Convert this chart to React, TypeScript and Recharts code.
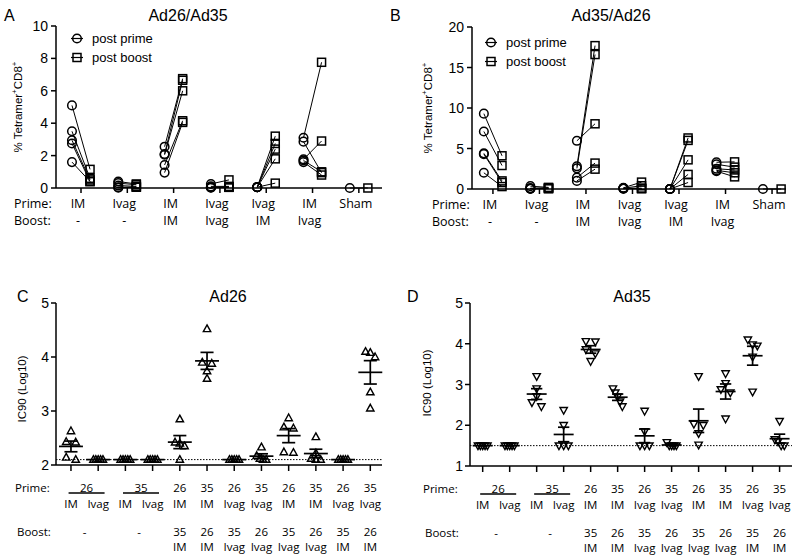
import React from 'react';
import { ScatterChart, Scatter, XAxis, YAxis, ReferenceLine, Legend } from 'recharts';

const INK = '#000';
const NUM_FONT = '"Liberation Sans", Arial, sans-serif';
const LBL_FONT = '"Open Sans", sans-serif';

// ---------- Panels A / B : % Tetramer+ CD8+ ----------
const tetPrimeRoute = ['IM', 'Ivag', 'IM', 'Ivag', 'Ivag', 'IM', 'Sham'];
const tetBoostRoute = ['-', '-', 'IM', 'Ivag', 'IM', 'Ivag', ''];

const ad26Ad35PostPrime = [
  [5.1, 3.5, 2.95, 2.75, 1.6],
  [0.4, 0.3, 0.15, 0.05, 0.02],
  [2.55, 2.1, 2.05, 1.42, 0.95],
  [0.25, 0.1, 0.05, 0.03, 0.02],
  [0.05, 0.05, 0.05, 0.05, 0.05],
  [3.1, 2.86, 1.77, 1.6, 1.7],
  [0],
];
const ad26Ad35PostBoost = [
  [1.15, 0.6, 0.5, 0.4, 0.4],
  [0.25, 0.2, 0.1, 0.05, 0.05],
  [6.75, 6.65, 6.0, 4.15, 4.05],
  [0.5, 0.1, 0.06, 0.05, 0.04],
  [3.2, 2.75, 2.4, 1.8, 0.3],
  [7.76, 0.95, 2.9, 0.8, 1.0],
  [0],
];
const ad35Ad26PostPrime = [
  [9.3, 7.1, 4.4, 4.3, 2.0],
  [0.35, 0.1, 0.05, 0.05, 0.05],
  [2.8, 2.55, 5.95, 1.4, 1.0],
  [0.15, 0.1, 0.1, 0.05, 0.05],
  [0, 0, 0, 0, 0],
  [3.3, 3.05, 2.5, 2.3, 2.2],
  [0],
];
const ad35Ad26PostBoost = [
  [4.1, 2.9, 1.0, 0.8, 0.3],
  [0.2, 0.15, 0.1, 0.05, 0.05],
  [17.7, 16.6, 8.05, 3.2, 2.45],
  [0.85, 0.4, 0.1, 0.05, 0.05],
  [6.3, 6.0, 3.6, 1.8, 0.8],
  [3.35, 2.7, 2.35, 2.0, 1.5],
  [0],
];
const ad26Ad35Ticks = [0, 2, 4, 6, 8, 10];
const ad35Ad26Ticks = [0, 5, 10, 15, 20];
const tetGroupTicks = [0, 1, 2, 3, 4, 5, 6];

// ---------- Panels C / D : IC90 (Log10) ----------
const icPrimeVector = ['26', '26', '35', '35', '26', '35', '26', '35', '26', '35', '26', '35'];
const icPrimeRoute = ['IM', 'Ivag', 'IM', 'Ivag', 'IM', 'IM', 'Ivag', 'Ivag', 'IM', 'IM', 'Ivag', 'Ivag'];
const icBoostVector = ['-', '-', '-', '-', '35', '26', '35', '26', '35', '26', '35', '26'];
const icBoostRoute = ['', '', '', '', 'IM', 'IM', 'Ivag', 'Ivag', 'Ivag', 'Ivag', 'IM', 'IM'];
const icSharedPairs = [[0, 1], [2, 3]];

const ad26Ic90 = [
  [2.63, 2.43, 2.42, 2.14, 2.1],
  [2.1, 2.1, 2.1, 2.1, 2.1],
  [2.1, 2.1, 2.1, 2.1, 2.1],
  [2.1, 2.1, 2.1, 2.1, 2.1],
  [2.85, 2.42, 2.4, 2.35, 2.1],
  [4.52, 3.9, 3.88, 3.74, 3.6],
  [2.1, 2.1, 2.1, 2.1, 2.1],
  [2.33, 2.17, 2.12, 2.1, 2.1],
  [2.87, 2.7, 2.68, 2.24, 2.23],
  [2.52, 2.22, 2.12, 2.1, 2.1],
  [2.1, 2.1, 2.1, 2.1, 2.1],
  [4.1, 4.08, 4.0, 3.35, 3.05],
];
const ad35Ic90 = [
  [1.5, 1.5, 1.5, 1.5, 1.5],
  [1.5, 1.5, 1.5, 1.5, 1.5],
  [3.2, 2.9, 2.71, 2.56, 2.46],
  [2.37, 2.0, 1.5, 1.5, 1.5],
  [4.06, 4.05, 3.86, 3.76, 3.57],
  [2.9, 2.8, 2.7, 2.58, 2.46],
  [2.35, 1.85, 1.5, 1.5, 1.5],
  [1.58, 1.5, 1.5, 1.5, 1.5],
  [3.2, 2.03, 2.0, 1.8, 1.52],
  [3.27, 3.03, 2.88, 2.8, 2.16],
  [4.1, 3.98, 3.95, 3.68, 2.82],
  [2.1, 1.65, 1.6, 1.5, 1.5],
];
const ad26Ticks = [2, 3, 4, 5];
const ad35Ticks = [1, 2, 3, 4, 5];
const ad26Lod = 2.1;
const ad35Lod = 1.5;
const icGroupTicks = [0, 0.5, 1, 2, 2.5, 3, 4, 5, 6, 7, 8, 9, 10, 11];

// ---------- helpers ----------
const OFF = 0.195;
type Pt = { x: number; y: number; kind: string };

function pairs(prime: number[][], boost: number[][]): Pt[][] {
  const out: Pt[][] = [];
  prime.forEach((grp, g) =>
    grp.forEach((v, i) => {
      out.push([
        { x: g - OFF, y: v, kind: 'prime' },
        { x: g + OFF, y: boost[g][i], kind: 'boost' },
      ]);
    })
  );
  return out;
}

function spread(values: number[], thr: number, span: number): number[] {
  const idx = values.map((_, i) => i).sort((a, b) => values[b] - values[a]);
  const offs = new Array(values.length).fill(0);
  let cluster = [idx[0]];
  const flush = () => {
    const k = cluster.length;
    cluster.forEach((id, j) => {
      offs[id] = k === 1 ? 0 : -span / 2 + (span * j) / (k - 1);
    });
  };
  for (let n = 1; n < idx.length; n++) {
    const prev = values[cluster[cluster.length - 1]];
    if (prev - values[idx[n]] < thr) cluster.push(idx[n]);
    else {
      flush();
      cluster = [idx[n]];
    }
  }
  flush();
  return offs;
}

function stats(vals: number[]) {
  const n = vals.length;
  const mean = vals.reduce((a, b) => a + b, 0) / n;
  const sd = Math.sqrt(vals.reduce((a, b) => a + (b - mean) * (b - mean), 0) / (n - 1));
  return { mean, sem: sd / Math.sqrt(n) };
}

const PairMarker = (p: any) => {
  const { cx, cy, payload } = p;
  if (cx == null || cy == null) return <g />;
  if (payload.kind === 'prime')
    return <circle cx={cx} cy={cy} r={4.3} fill="none" stroke={INK} strokeWidth={1.5} />;
  return <rect x={cx - 4} y={cy - 4} width={8} height={8} fill="none" stroke={INK} strokeWidth={1.5} />;
};

const TriUp = (p: any) => {
  const { cx, cy } = p;
  if (cx == null || cy == null) return <g />;
  return (
    <path
      d={`M${cx},${cy - 4} L${cx + 3.7},${cy + 2.7} L${cx - 3.7},${cy + 2.7} Z`}
      fill="none"
      stroke={INK}
      strokeWidth={1.4}
    />
  );
};
const TriDown = (p: any) => {
  const { cx, cy } = p;
  if (cx == null || cy == null) return <g />;
  return (
    <path
      d={`M${cx},${cy + 4} L${cx + 3.7},${cy - 2.7} L${cx - 3.7},${cy - 2.7} Z`}
      fill="none"
      stroke={INK}
      strokeWidth={1.4}
    />
  );
};

const lbl = (s: string, x: number, y: number, size: number, anchor: string = 'middle') => (
  <text
    x={x}
    y={y}
    textAnchor={anchor as any}
    dominantBaseline="central"
    fontFamily={LBL_FONT}
    fontSize={size}
    fill={INK}
  >
    {s}
  </text>
);

const YTick = (props: any) => {
  const { x, y, payload } = props;
  return (
    <text
      x={x}
      y={y}
      textAnchor="end"
      dominantBaseline="central"
      fontFamily={NUM_FONT}
      fontSize={14}
      fill={INK}
    >
      {payload.value}
    </text>
  );
};

const makeTetTick = (headerX: number) => (props: any) => {
  const { x, y, payload } = props;
  const g = payload.value as number;
  return (
    <g>
      <line x1={x} x2={x} y1={y} y2={y + 5} stroke={INK} strokeWidth={1.5} />
      {lbl(tetPrimeRoute[g], x - 3, y + 15, 12.5)}
      {lbl(tetBoostRoute[g], x - 3, y + 32.5, 12.5)}
      {g === 0 && lbl('Prime:', headerX, y + 15, 12.5, 'start')}
      {g === 0 && lbl('Boost:', headerX, y + 32.5, 12.5, 'start')}
    </g>
  );
};

const makeIcTick = (headerX: number) => (props: any) => {
  const { x, y, payload } = props;
  const v = payload.value as number;
  const fs = 11.5;
  if (Number.isInteger(v)) {
    const shared = icSharedPairs.some((p) => p.includes(v));
    return (
      <g>
        <line x1={x} x2={x} y1={y} y2={y + 6} stroke={INK} strokeWidth={1.5} />
        {!shared && lbl(icPrimeVector[v], x, y + 22, fs)}
        {lbl(icPrimeRoute[v], x, y + 38, fs)}
        {!shared && lbl(icBoostVector[v], x, y + 66, fs)}
        {!shared && lbl(icBoostRoute[v], x, y + 81, fs)}
        {v === 0 && lbl('Prime:', headerX, y + 22, fs, 'start')}
        {v === 0 && lbl('Boost:', headerX + 2, y + 66, fs, 'start')}
      </g>
    );
  }
  const pair = icSharedPairs.find((p) => (p[0] + p[1]) / 2 === v) || [0, 1];
  return (
    <g>
      {lbl(icPrimeVector[pair[0]], x + 2, y + 22, fs)}
      <line x1={x - 16} x2={x + 20} y1={y + 28} y2={y + 28} stroke={INK} strokeWidth={1.5} />
      {lbl(icBoostVector[pair[0]], x, y + 66, fs)}
    </g>
  );
};

const YTitle = (props: any) => {
  const { px, py, kind } = props;
  return (
    <text
      transform={`translate(${px},${py}) rotate(-90)`}
      textAnchor="middle"
      dominantBaseline="central"
      fontFamily={NUM_FONT}
      fontSize={11.5}
      fill={INK}
    >
      {kind === 'tet' ? (
        <>
          <tspan>% Tetramer</tspan>
          <tspan dy={-4} fontSize={8}>+</tspan>
          <tspan dy={4}>CD8</tspan>
          <tspan dy={-4} fontSize={8}>+</tspan>
        </>
      ) : (
        'IC90 (Log10)'
      )}
    </text>
  );
};

const TetLegend = () => (
  <div style={{ fontFamily: NUM_FONT, fontSize: 13, color: INK }}>
    {['post prime', 'post boost'].map((name, i) => (
      <div key={name} style={{ display: 'flex', alignItems: 'center', height: 19 }}>
        <svg width={20} height={19}>
          <line x1={3} x2={15} y1={9.5} y2={9.5} stroke={INK} strokeWidth={1.2} />
          {i === 0 ? (
            <circle cx={9} cy={9.5} r={4.3} fill="none" stroke={INK} strokeWidth={1.5} />
          ) : (
            <rect x={5} y={5.5} width={8} height={8} fill="none" stroke={INK} strokeWidth={1.5} />
          )}
        </svg>
        <span style={{ marginLeft: 4, whiteSpace: 'nowrap' }}>{name}</span>
      </div>
    ))}
  </div>
);

const axisStyle = { stroke: INK, strokeWidth: 1.5 };

function TetPanel(props: {
  prime: number[][];
  boost: number[][];
  yMax: number;
  yTicks: number[];
  xDomain: [number, number];
  yAxisWidth: number;
  top: number;
  right: number;
  xAxisHeight: number;
  headerX: number;
  labelPx: number;
  labelPy: number;
  legendLeft: number;
  legendTop: number;
}) {
  const series = pairs(props.prime, props.boost);
  return (
    <ScatterChart
      width={400}
      height={235}
      margin={{ top: props.top, right: props.right, bottom: 0, left: 0 }}
    >
      <XAxis
        type="number"
        dataKey="x"
        domain={props.xDomain}
        ticks={tetGroupTicks}
        interval={0}
        allowDataOverflow
        tickLine={false}
        tickSize={0}
        tickMargin={0}
        axisLine={axisStyle}
        height={props.xAxisHeight}
        tick={makeTetTick(props.headerX)}
      />
      <YAxis
        type="number"
        dataKey="y"
        domain={[0, props.yMax]}
        ticks={props.yTicks}
        interval={0}
        width={props.yAxisWidth}
        tickSize={5}
        tickMargin={3}
        tickLine={axisStyle}
        axisLine={axisStyle}
        tick={YTick}
        label={<YTitle px={props.labelPx} py={props.labelPy} kind="tet" />}
      />
      <Legend
        layout="vertical"
        align="center"
        verticalAlign="middle"
        content={() => <TetLegend />}
        wrapperStyle={{ left: props.legendLeft, top: props.legendTop, width: 'auto' }}
      />
      {series.map((d, k) => (
        <Scatter
          key={k}
          data={d}
          line={{ stroke: INK, strokeWidth: 1 }}
          lineType="joint"
          shape={PairMarker}
          legendType="none"
          isAnimationActive={false}
        />
      ))}
    </ScatterChart>
  );
}

function IcPanel(props: {
  data: number[][];
  marker: any;
  yDomain: [number, number];
  yTicks: number[];
  lod: number;
  thr: number;
  xDomain: [number, number];
  yAxisWidth: number;
  right: number;
  xAxisHeight: number;
  headerX: number;
  labelPx: number;
  labelPy: number;
  meanHalf: number;
  capHalf: number;
}) {
  const points = props.data.flatMap((vals, g) => {
    const offs = spread(vals, props.thr, 0.35);
    return vals.map((v, i) => ({ x: g + offs[i], y: v }));
  });
  const st = props.data.map(stats);
  const seg = (x1: number, y1: number, x2: number, y2: number, key: string) => (
    <ReferenceLine
      key={key}
      segment={[
        { x: x1, y: y1 },
        { x: x2, y: y2 },
      ]}
      stroke={INK}
      strokeWidth={1.7}
      ifOverflow="visible"
    />
  );
  return (
    <ScatterChart
      width={400}
      height={288}
      margin={{ top: 33, right: props.right, bottom: 0, left: 0 }}
    >
      <XAxis
        type="number"
        dataKey="x"
        domain={props.xDomain}
        ticks={icGroupTicks}
        interval={0}
        allowDataOverflow
        tickLine={false}
        tickSize={0}
        tickMargin={0}
        axisLine={axisStyle}
        height={props.xAxisHeight}
        tick={makeIcTick(props.headerX)}
      />
      <YAxis
        type="number"
        dataKey="y"
        domain={props.yDomain}
        ticks={props.yTicks}
        interval={0}
        allowDataOverflow
        width={props.yAxisWidth}
        tickSize={5}
        tickMargin={2}
        tickLine={axisStyle}
        axisLine={axisStyle}
        tick={YTick}
        label={<YTitle px={props.labelPx} py={props.labelPy} kind="ic" />}
      />
      <ReferenceLine y={props.lod} stroke={INK} strokeWidth={1} strokeDasharray="1.5 1.5" />
      <Scatter data={points} shape={props.marker} legendType="none" isAnimationActive={false} />
      {st.map((s, g) => seg(g - props.meanHalf, s.mean, g + props.meanHalf, s.mean, `m${g}`))}
      {st.map((s, g) =>
        s.sem > 0.005 ? seg(g, s.mean - s.sem, g, s.mean + s.sem, `v${g}`) : null
      )}
      {st.map((s, g) =>
        s.sem > 0.005 ? seg(g - props.capHalf, s.mean + s.sem, g + props.capHalf, s.mean + s.sem, `t${g}`) : null
      )}
      {st.map((s, g) =>
        s.sem > 0.005 ? seg(g - props.capHalf, s.mean - s.sem, g + props.capHalf, s.mean - s.sem, `b${g}`) : null
      )}
    </ScatterChart>
  );
}

const titles = [
  { t: 'A', x: 4, y: 21, a: 'start' },
  { t: 'Ad26/Ad35', x: 188, y: 21, a: 'middle' },
  { t: 'B', x: 390, y: 21, a: 'start' },
  { t: 'Ad35/Ad26', x: 611, y: 21, a: 'middle' },
  { t: 'C', x: 17, y: 302, a: 'start' },
  { t: 'Ad26', x: 228, y: 302, a: 'middle' },
  { t: 'D', x: 407, y: 302, a: 'start' },
  { t: 'Ad35', x: 632, y: 302, a: 'middle' },
];

export default function App() {
  return (
    <div
      style={{
        position: 'absolute',
        left: 0,
        top: 0,
        width: 800,
        height: 558,
        background: '#fff',
        overflow: 'hidden',
      }}
    >
      <div style={{ position: 'absolute', left: 0, top: 0 }}>
        <TetPanel
          prime={ad26Ad35PostPrime}
          boost={ad26Ad35PostBoost}
          yMax={10}
          yTicks={ad26Ad35Ticks}
          xDomain={[-0.54, 6.5]}
          yAxisWidth={56}
          top={26}
          right={18}
          xAxisHeight={47}
          headerX={14}
          labelPx={18}
          labelPy={107}
          legendLeft={68}
          legendTop={29}
        />
      </div>
      <div style={{ position: 'absolute', left: 400, top: 0 }}>
        <TetPanel
          prime={ad35Ad26PostPrime}
          boost={ad35Ad26PostBoost}
          yMax={20}
          yTicks={ad35Ad26Ticks}
          xDomain={[-0.45, 6.3]}
          yAxisWidth={72}
          top={27}
          right={14}
          xAxisHeight={46}
          headerX={32}
          labelPx={28}
          labelPy={108}
          legendLeft={82}
          legendTop={33}
        />
      </div>
      <div style={{ position: 'absolute', left: 0, top: 270 }}>
        <IcPanel
          data={ad26Ic90}
          marker={TriUp}
          yDomain={[2, 5]}
          yTicks={ad26Ticks}
          lod={ad26Lod}
          thr={0.1}
          xDomain={[-0.55, 11.43]}
          yAxisWidth={56}
          right={18}
          xAxisHeight={93}
          headerX={15}
          labelPx={22}
          labelPy={119}
          meanHalf={0.44}
          capHalf={0.24}
        />
      </div>
      <div style={{ position: 'absolute', left: 400, top: 270 }}>
        <IcPanel
          data={ad35Ic90}
          marker={TriDown}
          yDomain={[1, 5]}
          yTicks={ad35Ticks}
          lod={ad35Lod}
          thr={0.14}
          xDomain={[-0.47, 11.46]}
          yAxisWidth={70}
          right={8}
          xAxisHeight={92}
          headerX={23}
          labelPx={27}
          labelPy={113}
          meanHalf={0.37}
          capHalf={0.21}
        />
      </div>
      <svg
        width={800}
        height={558}
        style={{ position: 'absolute', left: 0, top: 0, pointerEvents: 'none' }}
      >
        {titles.map((t) => (
          <text
            key={t.t}
            x={t.x}
            y={t.y}
            textAnchor={t.a as any}
            fontFamily={NUM_FONT}
            fontSize={16}
            fill={INK}
          >
            {t.t}
          </text>
        ))}
      </svg>
    </div>
  );
}
